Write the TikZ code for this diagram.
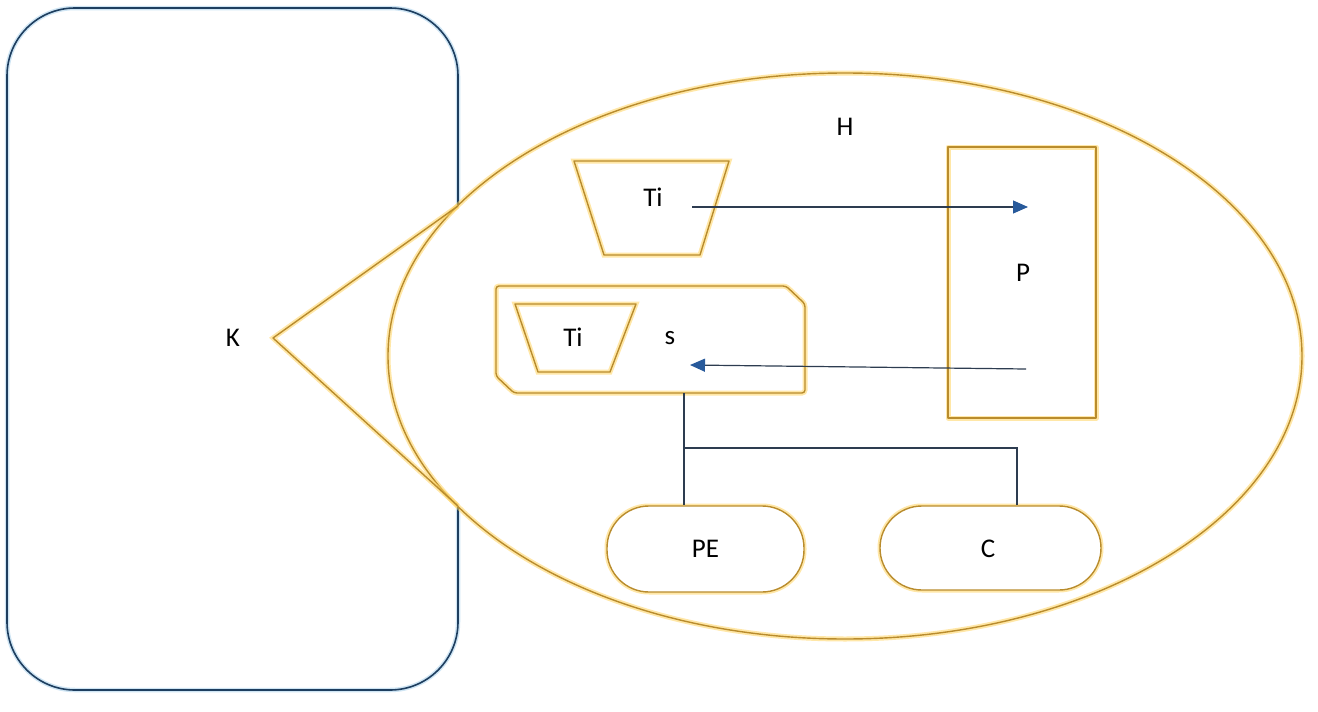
\documentclass[tikz,border=0pt]{standalone}
\usepackage{fontspec}
\setmainfont{Carlito}
\usetikzlibrary{arrows.meta}
\definecolor{goldline}{RGB}{185,140,45}
\definecolor{goldglow}{RGB}{255,212,95}
\definecolor{navyline}{RGB}{30,62,95}
\definecolor{blueglow}{RGB}{160,205,235}
\definecolor{wire}{RGB}{45,60,80}
\definecolor{tipblue}{RGB}{40,90,155}
\begin{document}
\begin{tikzpicture}[x=1pt,y=-1pt,
  goldshape/.style={draw=goldline, line width=1.4pt, line join=round,
    preaction={draw=goldglow, line width=5pt, opacity=0.55}},
  navyshape/.style={draw=navyline, line width=1.6pt,
    preaction={draw=blueglow, line width=4.5pt, opacity=0.5}},
  txt/.style={font=\fontsize{27}{30}\selectfont, inner sep=0pt, text=black},
  wireline/.style={draw=wire, line width=1.2pt},
  arrowline/.style={wireline, -{Triangle[length=15pt,width=13pt,color=tipblue]}},
  pill/.style={goldshape, fill=white, rounded corners=42pt, inner sep=0pt},
]
\useasboundingbox (0,0) rectangle (1318,712);
\fill[white] (0,0) rectangle (1318,712);

% left rounded panel
\draw[navyshape, rounded corners=68pt] (7,8) rectangle (458,690);

% callout: triangle + ellipse
\fill[white] (273,338) -- (458,206) -- (458,506) -- cycle;
\fill[white] (845,356) ellipse [x radius=457pt, y radius=283pt];
\draw[goldshape] (845,356) ellipse [x radius=457pt, y radius=283pt];
\draw[goldshape] (458,206) -- (273,338) -- (458,506);

\node[txt] (K) at (233,338) {K};
\node[txt] (H) at (845,127) {H};

% top trapezoid
\draw[goldshape] (574,161) -- (729,161) -- (700,255) -- (604,255) -- cycle;
\node[txt] (Ti1) at (653,197) {Ti};

% s box with cut corners
\draw[goldshape, rounded corners=3pt] (496,286) -- (786,286) -- (805,304) -- (805,393)
  -- (514,393) -- (496,376) -- cycle;
\draw[goldshape] (515,304) -- (636,304) -- (610,372) -- (538,372) -- cycle;
\node[txt] (Ti2) at (573,337) {Ti};
\node[txt] (s) at (670,338) {s};

% P box
\node[goldshape, rectangle, minimum width=148pt, minimum height=271pt, inner sep=0pt]
  (Pbox) at (1022,282.5) {};
\node[txt] (P) at (1023,273) {P};

% pills
\node[pill, minimum width=197pt, minimum height=86pt] (PE) at (705.5,549) {};
\node[txt] at (PE.center) {PE};
\node[pill, minimum width=221pt, minimum height=84pt] (C) at (990.5,548) {};
\node[txt] at (988,549) {C};

% connectors
\coordinate (a1s) at (692,207);
\coordinate (a1e) at (1028,207);
\coordinate (a2s) at (1026,369);
\coordinate (a2e) at (690,365);
\coordinate (sb) at (684,393);
\coordinate (junc) at (684,448);
\coordinate (cturn) at (1017,448);

\draw[arrowline] (a1s) -- (a1e);
\draw[arrowline] (a2s) -- (a2e);
\draw[wireline] (sb) -- (PE.north -| sb);
\draw[wireline] (junc) -- (cturn) -- (C.north -| cturn);
\end{tikzpicture}
\end{document}
